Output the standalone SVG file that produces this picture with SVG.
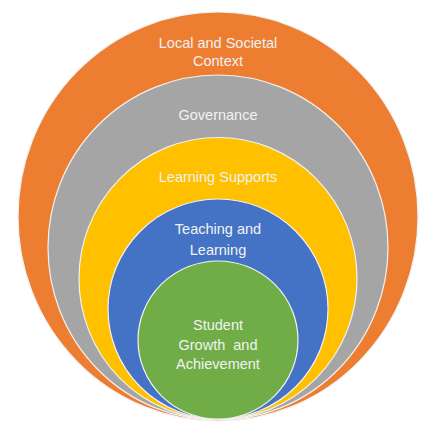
<svg xmlns="http://www.w3.org/2000/svg" width="425" height="423" viewBox="0 0 425 423">
<style>
.ring{stroke:#F2F2F2;stroke-width:1.2}
.t{font-family:"Liberation Sans",Arial,sans-serif;font-size:14.5px;fill:#F2F2F2;text-anchor:middle;white-space:pre}
</style>
<rect width="425" height="423" fill="#FFFFFF"/>
<g id="context">
<ellipse class="ring" cx="218" cy="216.5" rx="200" ry="204.5" fill="#ED7D31"/>
<text class="t" x="218" y="48">Local and Societal</text>
<text class="t" x="218" y="66">Context</text>
</g>
<g id="governance">
<ellipse class="ring" cx="218" cy="247.5" rx="170" ry="172.5" fill="#A5A5A5"/>
<text class="t" x="218" y="120">Governance</text>
</g>
<g id="supports">
<ellipse class="ring" cx="218" cy="278.5" rx="139" ry="141" fill="#FFC000"/>
<text class="t" x="218" y="182">Learning Supports</text>
</g>
<g id="teaching">
<ellipse class="ring" cx="218" cy="309" rx="110" ry="110" fill="#4472C4"/>
<text class="t" x="218" y="234">Teaching and</text>
<text class="t" x="218" y="255">Learning</text>
</g>
<g id="student">
<ellipse class="ring" cx="218" cy="340" rx="80" ry="79" fill="#70AD47"/>
<text class="t" x="218" y="330">Student</text>
<text class="t" x="218" y="350" xml:space="preserve">Growth  and</text>
<text class="t" x="218" y="369">Achievement</text>
</g>
<g id="connectors"/>
</svg>
